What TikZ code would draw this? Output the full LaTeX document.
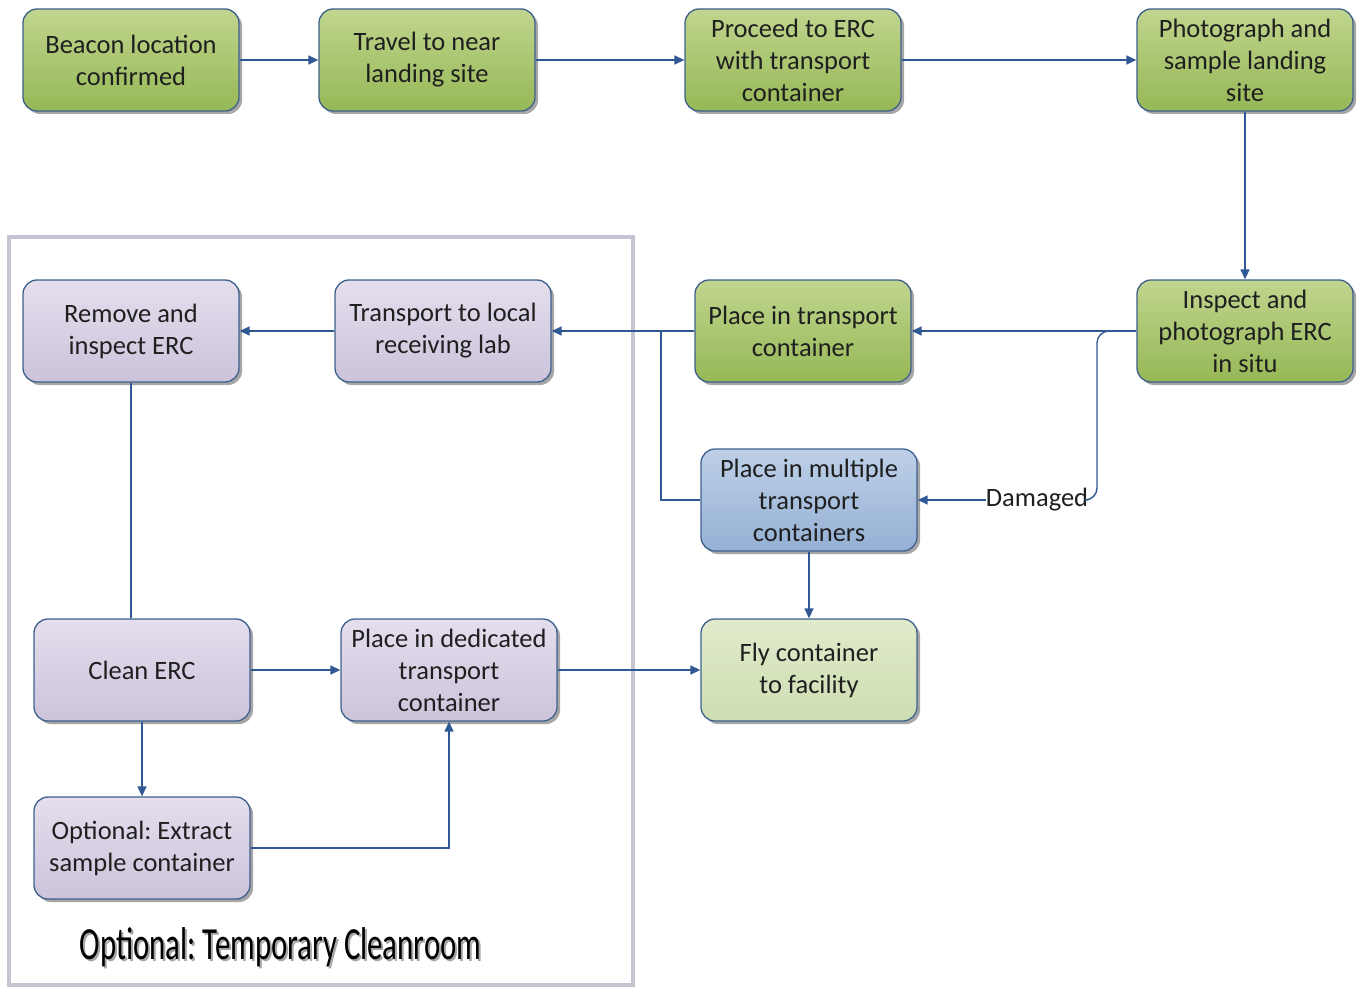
\documentclass[tikz,border=0pt]{standalone}
\usepackage{fontspec}
\setmainfont{Carlito}
\usetikzlibrary{arrows.meta,shadows,positioning}
\frenchspacing

\definecolor{edgeblue}{RGB}{62,96,140}
\definecolor{linkblue}{RGB}{48,88,148}
\definecolor{greentop}{RGB}{192,213,142}
\definecolor{greenbot}{RGB}{150,184,86}
\definecolor{liltop}{RGB}{228,222,237}
\definecolor{lilbot}{RGB}{204,195,219}
\definecolor{bluetop}{RGB}{190,208,232}
\definecolor{bluebot}{RGB}{148,176,212}
\definecolor{palegtop}{RGB}{224,234,203}
\definecolor{palegbot}{RGB}{205,222,178}
\definecolor{roomframe}{RGB}{200,194,210}

\tikzset{
  boxfont/.style={font=\fontsize{26.5}{32}\selectfont, text=black!88},
  flowbox/.style={draw=edgeblue, line width=1.3pt, rounded corners=14pt,
    minimum width=216pt, minimum height=102pt, align=center, boxfont,
    drop shadow={shadow xshift=3pt, shadow yshift=-3pt, fill=black, opacity=0.35}},
  greenbox/.style={flowbox, top color=greentop, bottom color=greenbot},
  lilacbox/.style={flowbox, top color=liltop, bottom color=lilbot},
  bluebox/.style={flowbox, top color=bluetop, bottom color=bluebot},
  paleqbox/.style={flowbox, top color=palegtop, bottom color=palegbot},
  link/.style={draw=linkblue, line width=1.4pt},
  arrowlink/.style={link, -{Triangle[length=10pt,width=9pt]}},
}

\begin{document}
\begin{tikzpicture}[x=1pt,y=-1pt]
\useasboundingbox (0,0) rectangle (1359,987);

% cleanroom enclosure
\draw[roomframe, line width=3.5pt] (9,237) rectangle (633,985);

% top row
\node[greenbox] (beacon) at (131,60) {Beacon location\\confirmed};
\node[greenbox] (travel) at (427,60) {Travel to near\\landing site};
\node[greenbox] (proceed) at (793,60) {Proceed to ERC\\with transport\\container};
\node[greenbox] (photo) at (1245,60) {Photograph and\\sample landing\\site};

% middle row
\node[greenbox] (inspect) at (1245,331) {Inspect and\\photograph ERC\\in situ};
\node[greenbox] (placetr) at (803,331) {Place in transport\\container};
\node[lilacbox] (translab) at (443,331) {Transport to local\\receiving lab};
\node[lilacbox] (remove) at (131,331) {Remove and\\inspect ERC};

\node[bluebox] (multi) at (809,500) {Place in multiple\\transport\\containers};
\node[paleqbox] (fly) at (809,670) {Fly container\\to facility};

\node[lilacbox] (clean) at (142,670) {Clean ERC};
\node[lilacbox] (dedic) at (449,670) {Place in dedicated\\transport\\container};
\node[lilacbox] (extract) at (142,848) {Optional: Extract\\sample container};

\coordinate (join) at (661,331);
\node[boxfont, inner sep=0pt] (dmg) at (1037,500) {Damaged};

% connectors
\draw[arrowlink] (beacon) -- (travel);
\draw[arrowlink] (travel) -- (proceed);
\draw[arrowlink] (proceed) -- (photo);
\draw[arrowlink] (photo) -- (inspect);
\draw[arrowlink] (inspect) -- (placetr);
\draw[link, rounded corners=12pt] (inspect.west) -- (1097,331) -- (1097,500) -- (dmg.east);
\draw[arrowlink] (dmg.west) -- (multi.east);
\draw[arrowlink] (placetr) -- (translab);
\draw[link] (multi.west) -- (join |- multi.west) -- (join);
\draw[arrowlink] (multi) -- (fly);
\draw[arrowlink] (translab) -- (remove);
\draw[link] (remove) -- (remove |- clean.north);
\draw[arrowlink] (clean) -- (dedic);
\draw[arrowlink] (clean) -- (extract);
\draw[arrowlink] (extract.east) -| (dedic.south);
\draw[arrowlink] (dedic) -- (fly);

% enclosure caption with soft shadow
\node[text=black!35] (roomshadow) at (282.5,949) {\fontsize{46}{50}\selectfont\scalebox{0.67}[1]{Optional: Temporary Cleanroom}};
\node[text=black] (roomlabel) at (280.5,947) {\fontsize{46}{50}\selectfont\scalebox{0.67}[1]{Optional: Temporary Cleanroom}};
\end{tikzpicture}
\end{document}
